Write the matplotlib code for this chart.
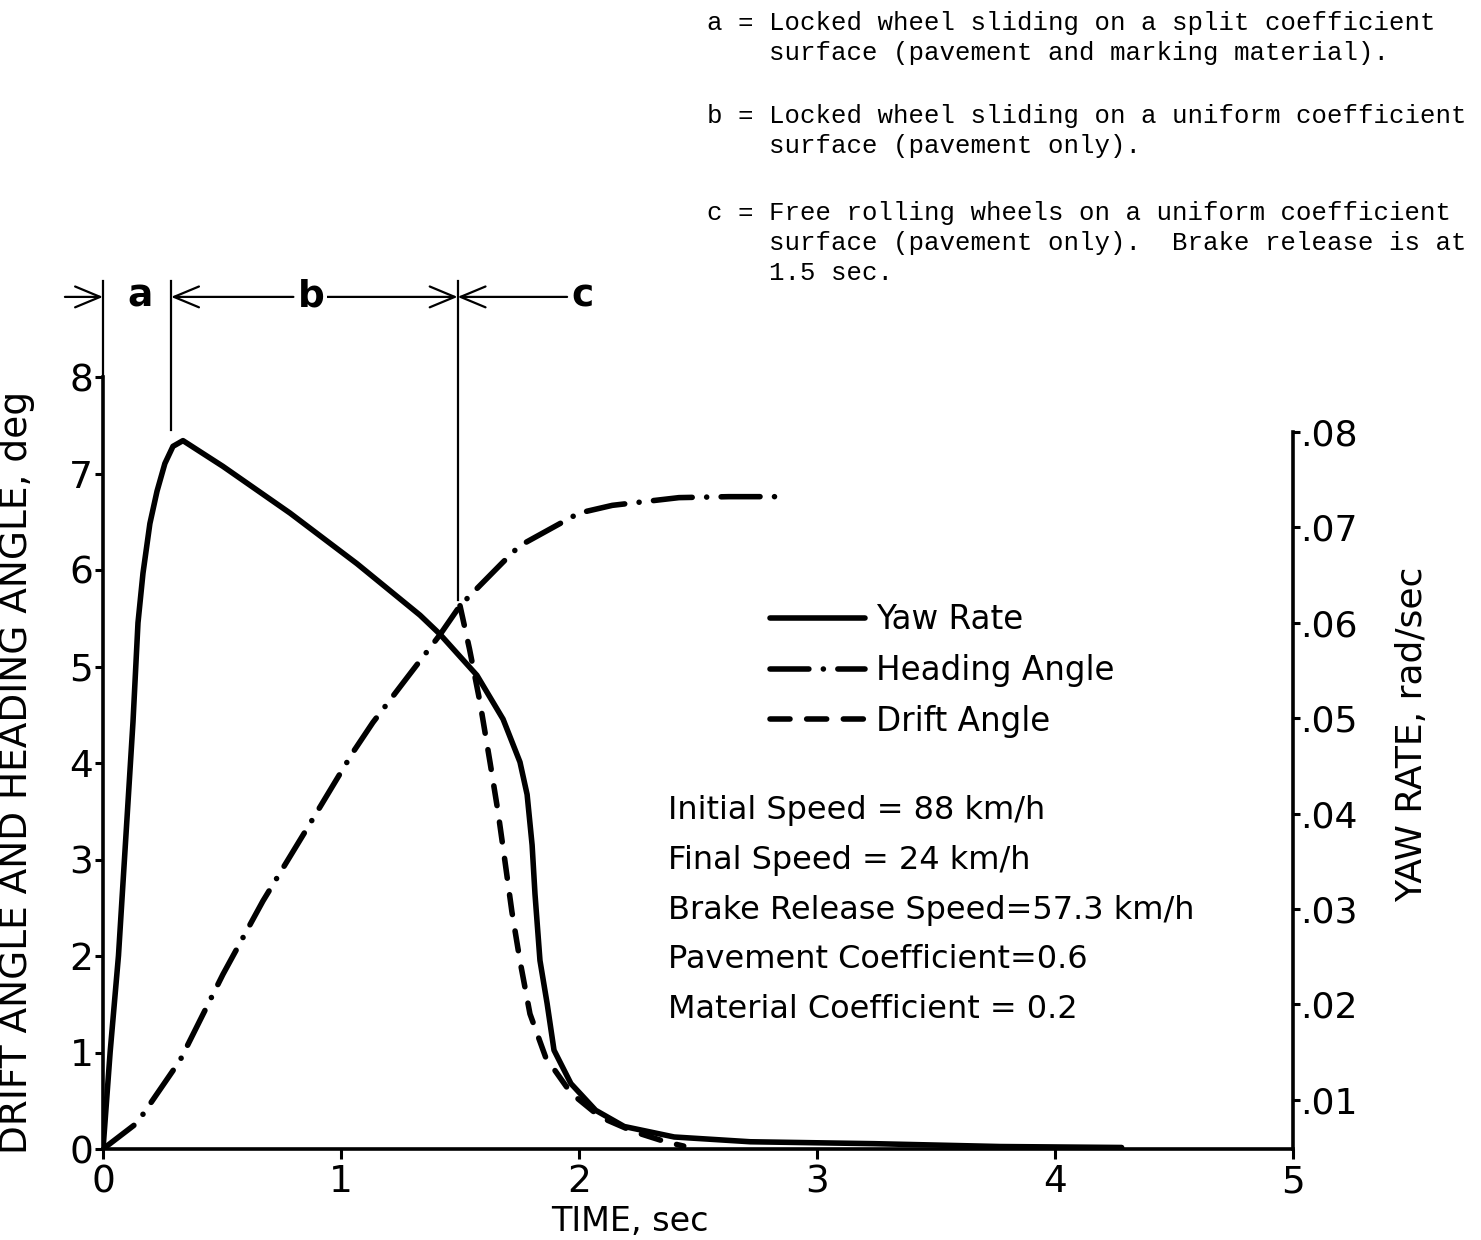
import matplotlib
matplotlib.use("Agg")
import matplotlib.pyplot as plt

# time, sec
yaw_t = [0, 0.03, 0.065, 0.126, 0.147, 0.168, 0.197, 0.227, 0.26, 0.294, 0.336,
         0.504, 0.786, 1.067, 1.332, 1.416, 1.571, 1.681, 1.752, 1.782, 1.803,
         1.815, 1.836, 1.866, 1.895, 1.966, 2.07, 2.19, 2.40, 2.72, 3.24, 3.77, 4.28]
# yaw rate, rad/sec (right scale)
yaw_rate = [0.0048, 0.0150, 0.0251, 0.0496, 0.0600, 0.0652, 0.0704, 0.0738,
            0.0767, 0.0785, 0.0791, 0.0764, 0.0715, 0.0662, 0.0608, 0.0588,
            0.0545, 0.0499, 0.0454, 0.0420, 0.0367, 0.0316, 0.0246, 0.0201,
            0.0152, 0.0117, 0.0089, 0.0072, 0.0061, 0.0056, 0.0054, 0.0051, 0.0050]

head_t = [0, 0.143, 0.324, 0.504, 0.672, 0.857, 1.05, 1.134, 1.27, 1.416, 1.5,
          1.68, 1.75, 2.0, 2.14, 2.42, 2.63, 2.84]
head_deg = [0, 0.27, 0.92, 1.81, 2.57, 3.32, 4.11, 4.42, 4.86, 5.33, 5.63,
            6.08, 6.25, 6.59, 6.67, 6.75, 6.76, 6.76]

drift_t = [1.5, 1.54, 1.584, 1.626, 1.66, 1.689, 1.718, 1.752, 1.794, 1.86,
           1.966, 2.09, 2.23, 2.37, 2.44]
drift_deg = [5.63, 5.18, 4.63, 4.01, 3.49, 2.98, 2.46, 1.95, 1.40, 0.95,
             0.58, 0.33, 0.18, 0.07, 0.03]

left_ticks = [0, 1, 2, 3, 4, 5, 6, 7, 8]
right_ticks = [0.01, 0.02, 0.03, 0.04, 0.05, 0.06, 0.07, 0.08]
right_labels = [".01", ".02", ".03", ".04", ".05", ".06", ".07", ".08"]
time_ticks = [0, 1, 2, 3, 4, 5]

# phase boundaries (sec)
t_a_end = 0.286
t_release = 1.49

params = ["Initial Speed = 88 km/h",
          "Final Speed = 24 km/h",
          "Brake Release Speed=57.3 km/h",
          "Pavement Coefficient=0.6",
          "Material Coefficient = 0.2"]

notes = ["a = Locked wheel sliding on a split coefficient\n"
         "    surface (pavement and marking material).",
         "b = Locked wheel sliding on a uniform coefficient\n"
         "    surface (pavement only).",
         "c = Free rolling wheels on a uniform coefficient\n"
         "    surface (pavement only).  Brake release is at\n"
         "    1.5 sec."]

FONT = "DejaVu Sans"
LW = 4.0


def deg_to_rate(d):
    # right scale is offset from the left one on the original drawing
    return 0.01 + (d - 0.51) * 0.010116


fig = plt.figure(figsize=(14.81, 12.40), dpi=100)
ax = fig.add_axes([103 / 1481, 1 - 1149 / 1240, 1190 / 1481, 868.5 / 1240])
ax2 = ax.twinx()

ymax = 9.0
ax.set_xlim(0, 5)
ax.set_ylim(0, ymax)
ax2.set_ylim(deg_to_rate(0), deg_to_rate(ymax))

for a in (ax, ax2):
    a.spines["top"].set_visible(False)
    a.patch.set_visible(False)
ax.spines["right"].set_visible(False)
ax2.spines["left"].set_visible(False)
ax2.spines["bottom"].set_visible(False)
ax.spines["left"].set_bounds(0, 8)
ax2.spines["right"].set_bounds(deg_to_rate(0), 0.08)
for s in ("left", "bottom"):
    ax.spines[s].set_linewidth(2.6)
ax2.spines["right"].set_linewidth(2.6)

ax.set_xticks(time_ticks)
ax.set_yticks(left_ticks)
ax2.set_yticks(right_ticks)
ax2.set_yticklabels(right_labels)
ax.tick_params(axis="x", direction="out", length=7, width=2.2, labelsize=27, pad=4)
ax.tick_params(axis="y", direction="out", length=6, width=2.2, labelsize=27, pad=1)
ax2.tick_params(axis="y", direction="out", length=5, width=2.2, labelsize=26, pad=0)

ax.plot(head_t, head_deg, color="black", lw=LW, dashes=(7, 2.6, 0.01, 2.6),
        dash_capstyle="round", label="Heading Angle", zorder=3)
ax.plot(drift_t, drift_deg, color="black", lw=LW, dashes=(3.6, 3.0),
        dash_capstyle="round", label="Drift Angle", zorder=3)
yaw_line, = ax2.plot(yaw_t, yaw_rate, color="black", lw=LW,
                     solid_capstyle="round", solid_joinstyle="round",
                     label="Yaw Rate", zorder=3)

ax.set_xlabel("TIME, sec", fontsize=24, family=FONT)
ax.xaxis.set_label_coords(0.443, -0.064)
ax.set_ylabel("DRIFT ANGLE AND HEADING ANGLE, deg", fontsize=27, family=FONT)
ax.yaxis.set_label_coords(-0.057, 0.434)
ax2.set_ylabel("YAW RATE, rad/sec", fontsize=26, family=FONT)
ax2.yaxis.set_label_coords(1.086, 0.477)

# phase markers across the top
y_arrow = 8.83
mark_kw = dict(color="black", lw=1.6, clip_on=False)
ax.plot([0, 0], [8, ymax], **mark_kw)
ax.plot([t_a_end, t_a_end], [7.45, ymax], **mark_kw)
ax.plot([t_release, t_release], [5.69, ymax], **mark_kw)

arrow_kw = dict(arrowstyle="->,head_length=0.6,head_width=0.25",
                color="black", lw=1.6, shrinkA=0, shrinkB=0, mutation_scale=30)
ax.annotate("", xy=(0, y_arrow), xytext=(-0.16, y_arrow),
            arrowprops=arrow_kw, annotation_clip=False)
ax.annotate("", xy=(t_a_end, y_arrow), xytext=(0.80, y_arrow),
            arrowprops=arrow_kw, annotation_clip=False)
ax.annotate("", xy=(t_release, y_arrow), xytext=(0.94, y_arrow),
            arrowprops=arrow_kw, annotation_clip=False)
ax.annotate("", xy=(t_release, y_arrow), xytext=(1.95, y_arrow),
            arrowprops=arrow_kw, annotation_clip=False)
ax.text(0.155, y_arrow, "a", fontsize=27, ha="center", va="center",
        family=FONT, fontweight="bold")
ax.text(0.874, y_arrow, "b", fontsize=27, ha="center", va="center",
        family=FONT, fontweight="bold",
        bbox=dict(fc="white", ec="none", pad=2))
ax.text(2.013, y_arrow, "c", fontsize=27, ha="center", va="center",
        family=FONT, fontweight="bold")

handles = [yaw_line] + ax.get_lines()[:2]
fig.legend(handles, [h.get_label() for h in handles],
           loc="upper left", bbox_to_anchor=(770 / 1481, 1 - 603 / 1240),
           frameon=False, prop=dict(family=FONT, size=23.5),
           handlelength=2.9, handletextpad=0.35, labelspacing=0.55,
           borderpad=0, borderaxespad=0)

for i, line in enumerate(params):
    fig.text(668 / 1481, 1 - (811 + 49.5 * i) / 1240, line, fontsize=23,
             family=FONT, ha="left", va="center")

note_tops = [11, 104, 201]
for top, note in zip(note_tops, notes):
    fig.text(707 / 1481, 1 - top / 1240, note, fontsize=18.5,
             family="Liberation Mono", ha="left", va="top", linespacing=1.32)

fig.savefig("out.png", dpi=100)
